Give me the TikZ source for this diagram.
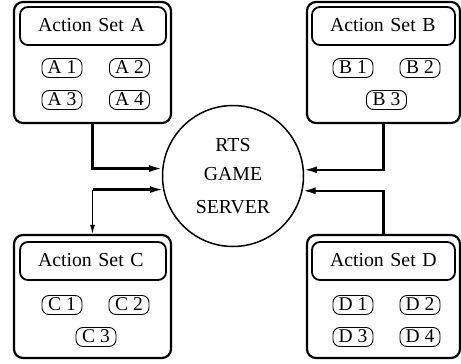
\documentclass[tikz,border=0pt]{standalone}
\usepackage{fontspec}
\setmainfont{Liberation Serif}
\usetikzlibrary{arrows.meta}
\begin{document}
\begin{tikzpicture}[x=1pt,y=-1pt,
  setbox/.style={draw, line width=2.2pt, rounded corners=9pt, inner sep=0pt},
  titlebox/.style={draw, line width=1.8pt, rounded corners=8pt, minimum height=38pt,
    inner xsep=18pt, inner ysep=0pt, align=left,
    font=\fontsize{19.8}{24}\selectfont, text height=13pt, text depth=3pt},
  act/.style={draw, line width=0.9pt, rounded corners=7pt, minimum height=19pt,
    minimum width=40pt, inner xsep=4pt, inner ysep=1pt,
    font=\fontsize{19.5}{24}\selectfont, text height=13pt, text depth=2pt},
  server/.style={circle, draw, line width=1.5pt, minimum size=141pt, inner sep=0pt,
    align=center, font=\fontsize{19.8}{29}\selectfont},
  conn/.style={line width=2.2pt, -{Latex[length=13pt,width=7pt]}},
  thinconn/.style={line width=1.2pt, -{Latex[length=9pt,width=5pt]}}
]
\useasboundingbox (0,0) rectangle (461,364);

% outer boxes
\node[setbox, minimum width=157pt, minimum height=121pt] (A) at (92.5,62.5) {};
\node[setbox, minimum width=153pt, minimum height=121pt] (B) at (383.5,62.5) {};
\node[setbox, minimum width=157pt, minimum height=123pt] (C) at (92.5,296.5) {};
\node[setbox, minimum width=153pt, minimum height=123pt] (D) at (383.5,296.5) {};

% titles
\node[titlebox, text width=110pt] (tA) at (93,26) {Action Set A};
\node[titlebox, text width=107pt] (tB) at (383.5,26) {Action Set B};
\node[titlebox, text width=110pt] (tC) at (93,261) {Action Set C};
\node[titlebox, text width=107pt] (tD) at (383.5,261) {Action Set D};

% actions
\node[act] (a1) at (62,68) {A 1};
\node[act] (a2) at (129.5,68) {A 2};
\node[act] (a3) at (62,100) {A 3};
\node[act] (a4) at (129.5,100) {A 4};

\node[act] (b1) at (353,68) {B 1};
\node[act] (b2) at (420,68) {B 2};
\node[act] (b3) at (386.5,100) {B 3};

\node[act] (c1) at (62,305) {C 1};
\node[act] (c2) at (129,305) {C 2};
\node[act] (c3) at (96,337) {C 3};

\node[act] (d1) at (353,305) {D 1};
\node[act] (d2) at (420,305) {D 2};
\node[act] (d3) at (353,337) {D 3};
\node[act] (d4) at (420,337) {D 4};

% server
\node[server] (srv) at (233,176) {RTS\\GAME\\[4pt]SERVER};

% connectors
\draw[conn] (A.south) |- (srv.174.3);
\draw[conn] (B.south) |- (srv.5.7);
\coordinate (cj) at (C.north |- srv.191.4);
\draw[conn] (cj) -- (srv.191.4);
\draw[thinconn] (cj) -- (C.north);
\draw[conn] (D.north) |- (srv.348.6);
\end{tikzpicture}
\end{document}
